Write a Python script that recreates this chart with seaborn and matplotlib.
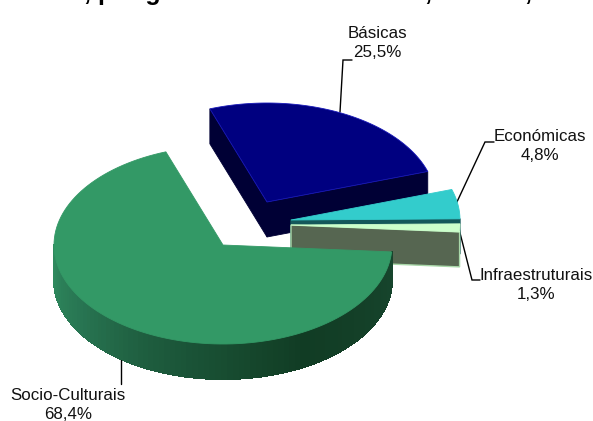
import numpy as np
import matplotlib
matplotlib.use("Agg")
import matplotlib.pyplot as plt
from matplotlib.colors import LinearSegmentedColormap
from matplotlib.patches import Polygon
import seaborn as sns

categories = ["Socio-Culturais", "Básicas", "Económicas", "Infraestruturais"]
shares = [68.4, 25.5, 4.8, 1.3]
share_labels = ["68,4%", "25,5%", "4,8%", "1,3%"]
top_colors = ["#339966", "#000080", "#33CCCC", "#CCFFCC"]
side_colors = ["#14402A", "#000035", "#14585A", "#566651"]
edge_colors = ["#339966", "#1818B8", "#33CCCC", "#CCFFCC"]

FONT = "Liberation Sans"
START = 94.0
RX, RY, DEPTH = 169.0, 99.0, 35.0
APEX = [(223, 245), (267, 202), (291, 220), (291, 225)]
LABEL_POS = [(68, 405), (377, 43), (540, 146), (536, 285)]
LEADERS = [
    [(121, 358), (121, 384)],
    [(340, 112), (343, 60), (352, 60)],
    [(456, 204), (485, 142), (494, 142)],
    [(459, 229), (472, 280), (480, 280)],
]

sns.set_theme(style="white")
plt.rcParams["font.family"] = [FONT, "DejaVu Sans"]

fig = plt.figure(figsize=(5.93, 4.21), dpi=100)
ax = fig.add_axes([0, 0, 1, 1])
ax.set_xlim(0, 593)
ax.set_ylim(421, 0)
ax.axis("off")

rim_cmap = LinearSegmentedColormap.from_list(
    "rim", [(0, "#17452D"), (0.33, "#113C24"), (0.62, "#1D5A3C"), (0.82, "#287552"), (1, "#2F8A5E")]
)


def ellipse(apex, t):
    r = np.radians(t)
    return apex[0] + RX * np.sin(r), apex[1] - RY * np.cos(r)


def poly(xs, ys, face, edge=None, lw=0.6, z=2, aa=True):
    ax.add_patch(Polygon(np.column_stack([xs, ys]), closed=True, facecolor=face,
                         edgecolor=edge if edge else face, linewidth=lw, zorder=z,
                         antialiased=aa))


# wedge angles come straight from the shares
ends = START + np.cumsum(shares) * 3.6
starts = np.r_[START, ends[:-1]]

for seg in LEADERS:
    xy = np.array(seg)
    ax.plot(xy[:, 0], xy[:, 1], color="black", lw=1.0, zorder=1, solid_joinstyle="miter")

# back-to-front painting: Básicas, Económicas, Infraestruturais, Socio-Culturais
for i in [1, 2, 3, 0]:
    a = APEX[i]
    t0, t1 = starts[i], ends[i]
    z = 2 + [1, 2, 3, 0].index(i)
    ex0, ey0 = ellipse(a, t0)
    ex1, ey1 = ellipse(a, t1)
    # radial side walls (only those facing the viewer)
    if i == 1:
        poly([ex0, a[0], a[0], ex0], [ey0, a[1], a[1] + DEPTH, ey0 + DEPTH], side_colors[i], z=z)
        poly([ex1, a[0], a[0], ex1], [ey1, a[1], a[1] + DEPTH, ey1 + DEPTH], side_colors[i], z=z)
    elif i in (2, 3):
        edge = "#A9D8A9" if i == 3 else None
        poly([ex1, a[0], a[0], ex1], [ey1, a[1], a[1] + DEPTH, ey1 + DEPTH], side_colors[i], edge=edge, lw=1.0, z=z)
    # outer rim of the green wedge, shaded from right to left
    if i == 0:
        ts = np.linspace(t0, 270, 90)
        for k in range(len(ts) - 1):
            xa, ya = ellipse(a, ts[k])
            xb, yb = ellipse(a, ts[k + 1])
            c = rim_cmap(k / (len(ts) - 2))
            poly([xa, xb, xb, xa], [ya, yb, yb + DEPTH, ya + DEPTH], c, lw=0.8, z=z, aa=False)
    t = np.linspace(t0, t1, 120)
    x, y = ellipse(a, t)
    poly(np.r_[a[0], x], np.r_[a[1], y], top_colors[i], edge=edge_colors[i], z=z + 0.5)

for name, pct, pos in zip(categories, share_labels, LABEL_POS):
    ax.text(pos[0], pos[1], f"{name}\n{pct}", ha="center", va="center", fontsize=12.2,
            color="#111111", linespacing=1.4, zorder=10)

# title: only the bottoms of its letters fall inside the picture
for frag, xpos in [(", por g", 84.5), (",", 424.5), (",", 524.5)]:
    fig.text(xpos / 593, 1.0, frag, ha="left", va="baseline",
             fontsize=18, fontweight="bold", color="black")

fig.savefig("out.png", dpi=100)
